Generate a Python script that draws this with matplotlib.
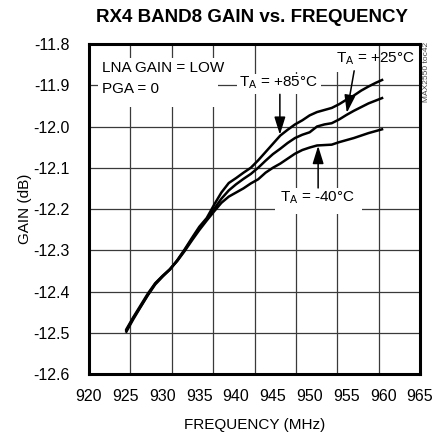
import numpy as np
import matplotlib
matplotlib.use("Agg")
import matplotlib.pyplot as plt
from matplotlib.patches import Rectangle

plt.rcParams['font.family'] = ['Liberation Sans', 'DejaVu Sans']

# data
freq = [925, 926, 927, 928, 929, 930, 931, 932, 933, 934, 935, 936, 937, 938,
        939, 940, 941, 942, 943, 944, 945, 946, 947, 948, 949, 950, 951, 952,
        953, 954, 955, 956, 957, 958, 959, 960]
gain_p85 = [-12.497, -12.465, -12.437, -12.408, -12.381, -12.363, -12.347, -12.324,
            -12.298, -12.270, -12.243, -12.222, -12.190, -12.160, -12.137, -12.125,
            -12.112, -12.100, -12.082, -12.062, -12.042, -12.022, -12.008, -11.995,
            -11.985, -11.973, -11.965, -11.960, -11.955, -11.946, -11.935, -11.925,
            -11.913, -11.903, -11.894, -11.886]
gain_p25 = [-12.494, -12.463, -12.434, -12.405, -12.380, -12.362, -12.346, -12.325,
            -12.300, -12.273, -12.247, -12.225, -12.200, -12.175, -12.155, -12.140,
            -12.127, -12.115, -12.100, -12.083, -12.067, -12.054, -12.040, -12.028,
            -12.020, -12.014, -12.000, -11.995, -11.992, -11.983, -11.972, -11.962,
            -11.953, -11.944, -11.937, -11.930]
gain_m40 = [-12.500, -12.468, -12.438, -12.409, -12.383, -12.364, -12.346, -12.326,
            -12.302, -12.276, -12.251, -12.228, -12.206, -12.185, -12.170, -12.160,
            -12.150, -12.138, -12.128, -12.112, -12.100, -12.090, -12.078, -12.066,
            -12.057, -12.051, -12.046, -12.045, -12.044, -12.038, -12.033, -12.028,
            -12.022, -12.016, -12.011, -12.006]

xticks = [920, 925, 930, 935, 940, 945, 950, 955, 960, 965]
yticks = [-11.8, -11.9, -12.0, -12.1, -12.2, -12.3, -12.4, -12.5, -12.6]

fig = plt.figure(figsize=(4.41, 4.36), dpi=100)
ax = fig.add_axes([89/441, 1 - 374/436, 331/441, 330/436])
ax.set_xlim(920, 965)
ax.set_ylim(-12.6, -11.8)

# grid: horizontal on the labels, vertical on 8 equal divisions
gc = '#3a3a3a'
for y in yticks[1:-1]:
    ax.axhline(y, color=gc, lw=0.9, zorder=1)
for x in np.linspace(920, 965, 9)[1:-1]:
    ax.axvline(x, color=gc, lw=0.9, zorder=1)

for g in (gain_p85, gain_p25, gain_m40):
    ax.plot(freq, g, color='black', lw=1.8, zorder=4, solid_capstyle='butt')

# white boxes under labels hide the grid
for (x0, x1, y0, y1) in [(921.2, 937.5, -11.952, -11.833),
                         (940.1, 951.6, -11.920, -11.872),
                         (946.0, 956.2, -11.868, -11.803),
                         (945.3, 957.1, -12.213, -12.149)]:
    ax.add_patch(Rectangle((x0, y0), x1 - x0, y1 - y0, facecolor='white',
                           edgecolor='none', zorder=2))

fs = 11
ax.text(921.8, -11.857, 'LNA GAIN = LOW', fontsize=fs, ha='left', va='center', zorder=3)
ax.text(921.8, -11.910, 'PGA = 0', fontsize=fs, ha='left', va='center', zorder=3)
ax.text(945.7, -11.893, r'T$_\mathregular{A}$ = +85°C', fontsize=fs, ha='center', va='center', zorder=3)
ax.text(958.9, -11.836, r'T$_\mathregular{A}$ = +25°C', fontsize=fs, ha='center', va='center', zorder=3)
ax.text(951.1, -12.172, r'T$_\mathregular{A}$ = -40°C', fontsize=fs, ha='center', va='center', zorder=3)

arrow = dict(arrowstyle='-|>,head_length=0.9,head_width=0.28', color='black',
             lw=1.1, shrinkA=0, shrinkB=0, mutation_scale=12)
ax.annotate('', xy=(945.95, -12.020), xytext=(945.95, -11.922), arrowprops=arrow, zorder=5)
ax.annotate('', xy=(955.05, -11.967), xytext=(956.05, -11.865), arrowprops=arrow, zorder=5)
ax.annotate('', xy=(951.15, -12.047), xytext=(951.15, -12.149), arrowprops=arrow, zorder=5)

ax.set_xticks(xticks)
ax.set_yticks(yticks)
ax.set_yticklabels(['%.1f' % v for v in yticks])
ax.tick_params(length=0, labelsize=11.5)
ax.tick_params(axis='x', pad=11)
ax.tick_params(axis='y', pad=14)
for s in ax.spines.values():
    s.set_linewidth(2.2)
    s.set_zorder(6)

ax.set_xlabel('FREQUENCY (MHz)', fontsize=11, labelpad=10)
ax.set_ylabel('GAIN (dB)', fontsize=11, labelpad=1)
fig.text(252/441, 1 - 17/436, 'RX4 BAND8 GAIN vs. FREQUENCY', fontsize=13.5,
         fontweight='bold', ha='center', va='center')
fig.text(427/441, 1 - 72/436, 'MAX2550 toc42', fontsize=6, rotation=90,
         ha='center', va='center', color='#444')

fig.savefig('out.png', dpi=100)
